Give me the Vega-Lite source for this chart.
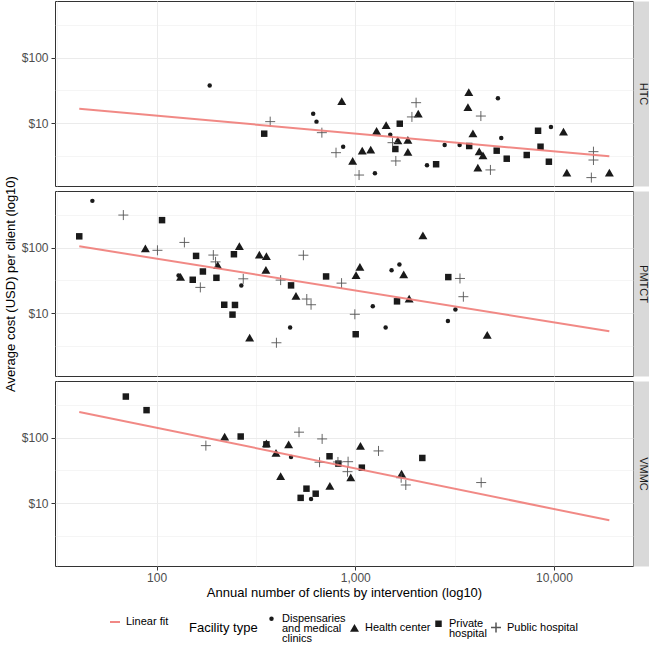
{
  "$schema": "https://vega.github.io/schema/vega-lite/v6.json",
  "padding": {"left": 3, "top": 0, "right": 0, "bottom": 0},
  "datasets": {
    "pts": [
      {"p":"HTC","t":"Dispensaries and medical clinics","x":185,"y":37.5},
      {"p":"HTC","t":"Dispensaries and medical clinics","x":614,"y":14.0},
      {"p":"HTC","t":"Dispensaries and medical clinics","x":638,"y":10.6},
      {"p":"HTC","t":"Dispensaries and medical clinics","x":869,"y":4.4},
      {"p":"HTC","t":"Dispensaries and medical clinics","x":1256,"y":1.73},
      {"p":"HTC","t":"Dispensaries and medical clinics","x":1500,"y":6.7},
      {"p":"HTC","t":"Dispensaries and medical clinics","x":2296,"y":2.29},
      {"p":"HTC","t":"Dispensaries and medical clinics","x":2818,"y":4.68},
      {"p":"HTC","t":"Dispensaries and medical clinics","x":3352,"y":4.68},
      {"p":"HTC","t":"Dispensaries and medical clinics","x":5225,"y":24.0},
      {"p":"HTC","t":"Dispensaries and medical clinics","x":5430,"y":5.98},
      {"p":"HTC","t":"Dispensaries and medical clinics","x":9660,"y":8.8},
      {"p":"HTC","t":"Health center","x":855,"y":21.8},
      {"p":"HTC","t":"Health center","x":970,"y":2.67},
      {"p":"HTC","t":"Health center","x":1084,"y":3.83},
      {"p":"HTC","t":"Health center","x":1196,"y":3.96},
      {"p":"HTC","t":"Health center","x":1280,"y":7.64},
      {"p":"HTC","t":"Health center","x":1430,"y":9.4},
      {"p":"HTC","t":"Health center","x":1638,"y":5.5},
      {"p":"HTC","t":"Health center","x":1840,"y":5.6},
      {"p":"HTC","t":"Health center","x":1840,"y":3.66},
      {"p":"HTC","t":"Health center","x":2075,"y":14.0},
      {"p":"HTC","t":"Health center","x":3727,"y":29.9},
      {"p":"HTC","t":"Health center","x":3690,"y":17.7},
      {"p":"HTC","t":"Health center","x":3910,"y":7.0},
      {"p":"HTC","t":"Health center","x":4206,"y":3.75},
      {"p":"HTC","t":"Health center","x":4393,"y":3.26},
      {"p":"HTC","t":"Health center","x":4140,"y":2.11},
      {"p":"HTC","t":"Health center","x":11170,"y":7.45},
      {"p":"HTC","t":"Health center","x":11610,"y":1.77},
      {"p":"HTC","t":"Health center","x":19010,"y":1.77},
      {"p":"HTC","t":"Private hospital","x":348,"y":6.95},
      {"p":"HTC","t":"Private hospital","x":1675,"y":9.86},
      {"p":"HTC","t":"Private hospital","x":1591,"y":4.06},
      {"p":"HTC","t":"Private hospital","x":2552,"y":2.38},
      {"p":"HTC","t":"Private hospital","x":3745,"y":4.51},
      {"p":"HTC","t":"Private hospital","x":5150,"y":3.83},
      {"p":"HTC","t":"Private hospital","x":5785,"y":2.89},
      {"p":"HTC","t":"Private hospital","x":7295,"y":3.29},
      {"p":"HTC","t":"Private hospital","x":8318,"y":7.7},
      {"p":"HTC","t":"Private hospital","x":8560,"y":4.4},
      {"p":"HTC","t":"Private hospital","x":9430,"y":2.6},
      {"p":"HTC","t":"Public hospital","x":373,"y":10.6},
      {"p":"HTC","t":"Public hospital","x":679,"y":7.2},
      {"p":"HTC","t":"Public hospital","x":800,"y":3.57},
      {"p":"HTC","t":"Public hospital","x":1045,"y":1.63},
      {"p":"HTC","t":"Public hospital","x":1540,"y":5.07},
      {"p":"HTC","t":"Public hospital","x":1600,"y":2.67},
      {"p":"HTC","t":"Public hospital","x":1928,"y":12.5},
      {"p":"HTC","t":"Public hospital","x":2024,"y":20.6},
      {"p":"HTC","t":"Public hospital","x":4287,"y":12.9},
      {"p":"HTC","t":"Public hospital","x":4790,"y":1.95},
      {"p":"HTC","t":"Public hospital","x":15810,"y":3.7},
      {"p":"HTC","t":"Public hospital","x":15810,"y":2.76},
      {"p":"HTC","t":"Public hospital","x":15430,"y":1.49},

      {"p":"PMTCT","t":"Dispensaries and medical clinics","x":47.5,"y":515},
      {"p":"PMTCT","t":"Dispensaries and medical clinics","x":129,"y":37.7},
      {"p":"PMTCT","t":"Dispensaries and medical clinics","x":267,"y":26.5},
      {"p":"PMTCT","t":"Dispensaries and medical clinics","x":470,"y":6.07},
      {"p":"PMTCT","t":"Dispensaries and medical clinics","x":1225,"y":12.8},
      {"p":"PMTCT","t":"Dispensaries and medical clinics","x":1422,"y":6.07},
      {"p":"PMTCT","t":"Dispensaries and medical clinics","x":1523,"y":45.4},
      {"p":"PMTCT","t":"Dispensaries and medical clinics","x":1668,"y":55.2},
      {"p":"PMTCT","t":"Dispensaries and medical clinics","x":2926,"y":7.66},
      {"p":"PMTCT","t":"Dispensaries and medical clinics","x":3192,"y":11.4},
      {"p":"PMTCT","t":"Health center","x":87.8,"y":97.8},
      {"p":"PMTCT","t":"Health center","x":132,"y":35.9},
      {"p":"PMTCT","t":"Health center","x":203,"y":54},
      {"p":"PMTCT","t":"Health center","x":261,"y":105},
      {"p":"PMTCT","t":"Health center","x":329,"y":78},
      {"p":"PMTCT","t":"Health center","x":357,"y":74},
      {"p":"PMTCT","t":"Health center","x":355,"y":46},
      {"p":"PMTCT","t":"Health center","x":294,"y":4.28},
      {"p":"PMTCT","t":"Health center","x":503,"y":18.5},
      {"p":"PMTCT","t":"Health center","x":1009,"y":38.1},
      {"p":"PMTCT","t":"Health center","x":1055,"y":50.9},
      {"p":"PMTCT","t":"Health center","x":1753,"y":39},
      {"p":"PMTCT","t":"Health center","x":1867,"y":16.7},
      {"p":"PMTCT","t":"Health center","x":2190,"y":154},
      {"p":"PMTCT","t":"Health center","x":4616,"y":4.7},
      {"p":"PMTCT","t":"Private hospital","x":40.8,"y":148.6},
      {"p":"PMTCT","t":"Private hospital","x":106.5,"y":262},
      {"p":"PMTCT","t":"Private hospital","x":158,"y":74.8},
      {"p":"PMTCT","t":"Private hospital","x":152,"y":32.4},
      {"p":"PMTCT","t":"Private hospital","x":171,"y":43.3},
      {"p":"PMTCT","t":"Private hospital","x":200,"y":34.7},
      {"p":"PMTCT","t":"Private hospital","x":219,"y":13.5},
      {"p":"PMTCT","t":"Private hospital","x":248,"y":13.4},
      {"p":"PMTCT","t":"Private hospital","x":241,"y":9.55},
      {"p":"PMTCT","t":"Private hospital","x":245,"y":79.3},
      {"p":"PMTCT","t":"Private hospital","x":475,"y":26.6},
      {"p":"PMTCT","t":"Private hospital","x":713,"y":36.4},
      {"p":"PMTCT","t":"Private hospital","x":1005,"y":4.8},
      {"p":"PMTCT","t":"Private hospital","x":1622,"y":15.2},
      {"p":"PMTCT","t":"Private hospital","x":2939,"y":35.6},
      {"p":"PMTCT","t":"Public hospital","x":68,"y":313},
      {"p":"PMTCT","t":"Public hospital","x":101,"y":91},
      {"p":"PMTCT","t":"Public hospital","x":138,"y":120},
      {"p":"PMTCT","t":"Public hospital","x":193,"y":77},
      {"p":"PMTCT","t":"Public hospital","x":198,"y":60.7},
      {"p":"PMTCT","t":"Public hospital","x":166,"y":24.8},
      {"p":"PMTCT","t":"Public hospital","x":273,"y":33.5},
      {"p":"PMTCT","t":"Public hospital","x":548,"y":76.6},
      {"p":"PMTCT","t":"Public hospital","x":421,"y":32},
      {"p":"PMTCT","t":"Public hospital","x":570,"y":16.5},
      {"p":"PMTCT","t":"Public hospital","x":599,"y":13.5},
      {"p":"PMTCT","t":"Public hospital","x":401,"y":3.56},
      {"p":"PMTCT","t":"Public hospital","x":853,"y":28.8},
      {"p":"PMTCT","t":"Public hospital","x":995,"y":9.66},
      {"p":"PMTCT","t":"Public hospital","x":3365,"y":33.9},
      {"p":"PMTCT","t":"Public hospital","x":3500,"y":17.9},

      {"p":"VMMC","t":"Dispensaries and medical clinics","x":475,"y":50.8},
      {"p":"VMMC","t":"Dispensaries and medical clinics","x":599,"y":11.6},
      {"p":"VMMC","t":"Health center","x":220,"y":103.5},
      {"p":"VMMC","t":"Health center","x":357,"y":82},
      {"p":"VMMC","t":"Health center","x":399,"y":58.5},
      {"p":"VMMC","t":"Health center","x":462,"y":79},
      {"p":"VMMC","t":"Health center","x":421,"y":26},
      {"p":"VMMC","t":"Health center","x":745,"y":18.4},
      {"p":"VMMC","t":"Health center","x":949,"y":24.9},
      {"p":"VMMC","t":"Health center","x":1062,"y":74.6},
      {"p":"VMMC","t":"Health center","x":1710,"y":28.3},
      {"p":"VMMC","t":"Private hospital","x":70,"y":422},
      {"p":"VMMC","t":"Private hospital","x":89,"y":262},
      {"p":"VMMC","t":"Private hospital","x":265,"y":104},
      {"p":"VMMC","t":"Private hospital","x":357,"y":79},
      {"p":"VMMC","t":"Private hospital","x":568,"y":16.7},
      {"p":"VMMC","t":"Private hospital","x":531,"y":12.1},
      {"p":"VMMC","t":"Private hospital","x":632,"y":14},
      {"p":"VMMC","t":"Private hospital","x":742,"y":52},
      {"p":"VMMC","t":"Private hospital","x":822,"y":40.2},
      {"p":"VMMC","t":"Private hospital","x":1079,"y":34.9},
      {"p":"VMMC","t":"Private hospital","x":2175,"y":49},
      {"p":"VMMC","t":"Public hospital","x":177,"y":75.5},
      {"p":"VMMC","t":"Public hospital","x":521,"y":121},
      {"p":"VMMC","t":"Public hospital","x":681,"y":95.5},
      {"p":"VMMC","t":"Public hospital","x":661,"y":42.2},
      {"p":"VMMC","t":"Public hospital","x":818,"y":42.6},
      {"p":"VMMC","t":"Public hospital","x":920,"y":43},
      {"p":"VMMC","t":"Public hospital","x":914,"y":30.3},
      {"p":"VMMC","t":"Public hospital","x":1309,"y":62.7},
      {"p":"VMMC","t":"Public hospital","x":1702,"y":24.5},
      {"p":"VMMC","t":"Public hospital","x":1796,"y":19},
      {"p":"VMMC","t":"Public hospital","x":4303,"y":20.7}
    ],
    "fit": [
      {"p":"HTC","k":"Linear fit","x":40.8,"y":16.7},
      {"p":"HTC","k":"Linear fit","x":19000,"y":3.14},
      {"p":"PMTCT","k":"Linear fit","x":40.8,"y":104.8},
      {"p":"PMTCT","k":"Linear fit","x":19000,"y":5.34},
      {"p":"VMMC","k":"Linear fit","x":40.8,"y":246},
      {"p":"VMMC","k":"Linear fit","x":19000,"y":5.5}
    ]
  },
  "spacing": 5,
  "bounds": "flush",
  "vconcat": [
    {"width": 578, "height": 185,
     "resolve": {"axis": {"y": "independent"}},
     "layer": [
      {"data": {"name": "pts"}, "transform": [{"filter": "datum.p == 'HTC'"}],
       "mark": {"type": "point", "filled": true, "fill": "#1a1a1a", "opacity": 1, "strokeWidth": 0.9},
       "encoding": {
        "x": {"field": "x", "type": "quantitative", "scale": {"type": "log", "domain": [30.8, 25000], "nice": false},
              "axis": {"title": null, "labels": false, "ticks": false, "values": [31.623, 100, 316.23, 1000, 3162.3, 10000],
                       "gridWidth": {"condition": {"test": "datum.value == 100 || datum.value == 1000 || datum.value == 10000", "value": 1}, "value": 0.5}}},
        "y": {"field": "y", "type": "quantitative", "scale": {"type": "log", "domain": [1.11, 728], "nice": false},
              "axis": {"orient": "left", "title": null, "values": [3.1623, 10, 31.623, 100, 316.23],
                       "labelExpr": "datum.value == 10 ? '$10' : datum.value == 100 ? '$100' : ''",
                       "tickOpacity": {"condition": {"test": "datum.value == 10 || datum.value == 100", "value": 1}, "value": 0},
                       "gridWidth": {"condition": {"test": "datum.value == 10 || datum.value == 100", "value": 1}, "value": 0.5}}},
        "shape": {"field": "t", "type": "nominal", "title": "Facility type",
                  "scale": {"domain": ["Dispensaries and medical clinics", "Health center", "Private hospital", "Public hospital"], "range": ["circle", "triangle-up", "square", "M-1,0H1M0,-1V1"]},
                  "legend": {"orient": "none", "legendX": 134, "legendY": 612, "direction": "horizontal", "titleOrient": "left", "titleAnchor": "middle", "titleBaseline": "middle", "titlePadding": 8, "columnPadding": 1, "labelOffset": 5, "symbolFillColor": "#1a1a1a",
                             "labelExpr": "datum.label == 'Dispensaries and medical clinics' ? ['Dispensaries', 'and medical', 'clinics'] : datum.label == 'Private hospital' ? ['Private', 'hospital'] : datum.label"}},
        "size": {"field": "t", "type": "nominal", "title": "Facility type",
                 "scale": {"type": "ordinal", "domain": ["Dispensaries and medical clinics", "Health center", "Private hospital", "Public hospital"], "range": [20, 80, 42, 100]},
                 "legend": {"orient": "none", "legendX": 134, "legendY": 612, "direction": "horizontal", "titleOrient": "left", "titleAnchor": "middle", "titleBaseline": "middle", "titlePadding": 8, "columnPadding": 1, "labelOffset": 5, "symbolFillColor": "#1a1a1a",
                             "labelExpr": "datum.label == 'Dispensaries and medical clinics' ? ['Dispensaries', 'and medical', 'clinics'] : datum.label == 'Private hospital' ? ['Private', 'hospital'] : datum.label"}},
        "stroke": {"field": "t", "type": "nominal", "title": "Facility type",
                 "scale": {"domain": ["Dispensaries and medical clinics", "Health center", "Private hospital", "Public hospital"], "range": ["transparent", "transparent", "transparent", "#555555"]},
                 "legend": {"orient": "none", "legendX": 134, "legendY": 612, "direction": "horizontal", "titleOrient": "left", "titleAnchor": "middle", "titleBaseline": "middle", "titlePadding": 8, "columnPadding": 1, "labelOffset": 5, "symbolFillColor": "#1a1a1a",
                             "labelExpr": "datum.label == 'Dispensaries and medical clinics' ? ['Dispensaries', 'and medical', 'clinics'] : datum.label == 'Private hospital' ? ['Private', 'hospital'] : datum.label"}}
       }},
      {"data": {"name": "fit"}, "transform": [{"filter": "datum.p == 'HTC'"}],
       "mark": {"type": "line", "strokeWidth": 2, "opacity": 0.9},
       "encoding": {
        "x": {"field": "x", "type": "quantitative"},
        "y": {"field": "y", "type": "quantitative",
              "axis": {"orient": "right", "title": "HTC", "labels": false, "ticks": false, "grid": false, "domain": true, "domainColor": "#d9d9d9", "domainWidth": 19, "offset": 9.5, "titleAngle": 90, "titleBaseline": "middle", "titlePadding": 0, "titleFontSize": 11, "titleColor": "#1a1a1a"}},
        "color": {"field": "k", "type": "nominal", "scale": {"range": ["#f07c78"]},
                  "legend": {"title": null, "orient": "none", "legendX": 54, "legendY": 615, "symbolType": "stroke", "symbolStrokeWidth": 2, "labelOffset": 5}}
       }}
     ]},
    {"width": 578, "height": 185,
     "resolve": {"axis": {"y": "independent"}},
     "layer": [
      {"data": {"name": "pts"}, "transform": [{"filter": "datum.p == 'PMTCT'"}],
       "mark": {"type": "point", "filled": true, "fill": "#1a1a1a", "opacity": 1, "strokeWidth": 0.9},
       "encoding": {
        "x": {"field": "x", "type": "quantitative", "scale": {"type": "log", "domain": [30.8, 25000], "nice": false},
              "axis": {"title": null, "labels": false, "ticks": false, "values": [31.623, 100, 316.23, 1000, 3162.3, 10000],
                       "gridWidth": {"condition": {"test": "datum.value == 100 || datum.value == 1000 || datum.value == 10000", "value": 1}, "value": 0.5}}},
        "y": {"field": "y", "type": "quantitative", "scale": {"type": "log", "domain": [1.11, 728], "nice": false},
              "axis": {"orient": "left", "title": "Average cost (USD) per client (log10)", "values": [3.1623, 10, 31.623, 100, 316.23],
                       "labelExpr": "datum.value == 10 ? '$10' : datum.value == 100 ? '$100' : ''",
                       "tickOpacity": {"condition": {"test": "datum.value == 10 || datum.value == 100", "value": 1}, "value": 0},
                       "gridWidth": {"condition": {"test": "datum.value == 10 || datum.value == 100", "value": 1}, "value": 0.5}}},
        "shape": {"field": "t", "type": "nominal", "title": "Facility type",
                  "scale": {"domain": ["Dispensaries and medical clinics", "Health center", "Private hospital", "Public hospital"], "range": ["circle", "triangle-up", "square", "M-1,0H1M0,-1V1"]}},
        "size": {"field": "t", "type": "nominal", "title": "Facility type",
                 "scale": {"type": "ordinal", "domain": ["Dispensaries and medical clinics", "Health center", "Private hospital", "Public hospital"], "range": [20, 80, 42, 100]}},
        "stroke": {"field": "t", "type": "nominal", "title": "Facility type",
                 "scale": {"domain": ["Dispensaries and medical clinics", "Health center", "Private hospital", "Public hospital"], "range": ["transparent", "transparent", "transparent", "#555555"]}}
       }},
      {"data": {"name": "fit"}, "transform": [{"filter": "datum.p == 'PMTCT'"}],
       "mark": {"type": "line", "strokeWidth": 2, "opacity": 0.9},
       "encoding": {
        "x": {"field": "x", "type": "quantitative"},
        "y": {"field": "y", "type": "quantitative",
              "axis": {"orient": "right", "title": "PMTCT", "labels": false, "ticks": false, "grid": false, "domain": true, "domainColor": "#d9d9d9", "domainWidth": 19, "offset": 9.5, "titleAngle": 90, "titleBaseline": "middle", "titlePadding": 0, "titleFontSize": 11, "titleColor": "#1a1a1a"}},
        "color": {"field": "k", "type": "nominal", "scale": {"range": ["#f07c78"]}}
       }}
     ]},
    {"width": 578, "height": 185,
     "resolve": {"axis": {"y": "independent"}},
     "layer": [
      {"data": {"name": "pts"}, "transform": [{"filter": "datum.p == 'VMMC'"}],
       "mark": {"type": "point", "filled": true, "fill": "#1a1a1a", "opacity": 1, "strokeWidth": 0.9},
       "encoding": {
        "x": {"field": "x", "type": "quantitative", "scale": {"type": "log", "domain": [30.8, 25000], "nice": false},
              "axis": {"title": "Annual number of clients by intervention (log10)", "values": [31.623, 100, 316.23, 1000, 3162.3, 10000],
                       "labelExpr": "(datum.value == 100 || datum.value == 1000 || datum.value == 10000) ? format(datum.value, ',') : ''",
                       "tickOpacity": {"condition": {"test": "datum.value == 100 || datum.value == 1000 || datum.value == 10000", "value": 1}, "value": 0},
                       "gridWidth": {"condition": {"test": "datum.value == 100 || datum.value == 1000 || datum.value == 10000", "value": 1}, "value": 0.5}}},
        "y": {"field": "y", "type": "quantitative", "scale": {"type": "log", "domain": [1.11, 728], "nice": false},
              "axis": {"orient": "left", "title": null, "values": [3.1623, 10, 31.623, 100, 316.23],
                       "labelExpr": "datum.value == 10 ? '$10' : datum.value == 100 ? '$100' : ''",
                       "tickOpacity": {"condition": {"test": "datum.value == 10 || datum.value == 100", "value": 1}, "value": 0},
                       "gridWidth": {"condition": {"test": "datum.value == 10 || datum.value == 100", "value": 1}, "value": 0.5}}},
        "shape": {"field": "t", "type": "nominal", "title": "Facility type",
                  "scale": {"domain": ["Dispensaries and medical clinics", "Health center", "Private hospital", "Public hospital"], "range": ["circle", "triangle-up", "square", "M-1,0H1M0,-1V1"]}},
        "size": {"field": "t", "type": "nominal", "title": "Facility type",
                 "scale": {"type": "ordinal", "domain": ["Dispensaries and medical clinics", "Health center", "Private hospital", "Public hospital"], "range": [20, 80, 42, 100]}},
        "stroke": {"field": "t", "type": "nominal", "title": "Facility type",
                 "scale": {"domain": ["Dispensaries and medical clinics", "Health center", "Private hospital", "Public hospital"], "range": ["transparent", "transparent", "transparent", "#555555"]}}
       }},
      {"data": {"name": "fit"}, "transform": [{"filter": "datum.p == 'VMMC'"}],
       "mark": {"type": "line", "strokeWidth": 2, "opacity": 0.9},
       "encoding": {
        "x": {"field": "x", "type": "quantitative"},
        "y": {"field": "y", "type": "quantitative",
              "axis": {"orient": "right", "title": "VMMC", "labels": false, "ticks": false, "grid": false, "domain": true, "domainColor": "#d9d9d9", "domainWidth": 19, "offset": 9.5, "titleAngle": 90, "titleBaseline": "middle", "titlePadding": 0, "titleFontSize": 11, "titleColor": "#1a1a1a"}},
        "color": {"field": "k", "type": "nominal", "scale": {"range": ["#f07c78"]}}
       }}
     ]}
  ],
  "config": {
    "font": "Liberation Sans",
    "view": {"stroke": "#333333", "strokeWidth": 1},
    "axis": {"domain": false, "gridColor": "#ebebeb", "tickColor": "#333333", "tickSize": 4, "labelColor": "#4d4d4d", "labelFontSize": 12, "labelPadding": 3, "titleFontSize": 13, "titleFontWeight": "normal", "titleColor": "#000000", "labelOverlap": false},
    "axisLeft": {"titlePadding": 4},
    "axisBottom": {"titlePadding": 3, "labelPadding": 2},
    "legend": {"labelFontSize": 11, "labelColor": "#000000", "titleFontSize": 13, "titleFontWeight": "normal", "titleColor": "#000000"},
    "style": {"guide-label": {"lineHeight": 10}}
  }
}
